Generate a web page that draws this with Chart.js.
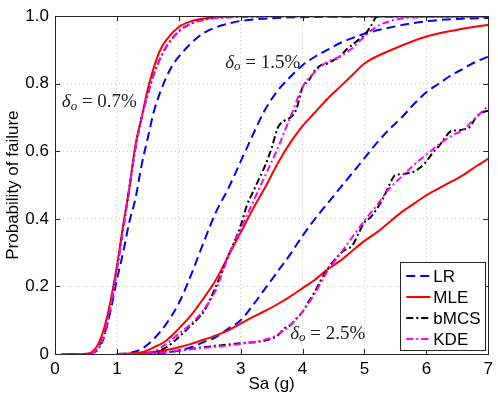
<!DOCTYPE html>
<html>
<head>
<meta charset="utf-8">
<script src="https://cdn.jsdelivr.net/npm/chart.js@4.4.0/dist/chart.umd.min.js"></script>
<style>
  html, body { margin: 0; padding: 0; background: #fff; }
</style>
</head>
<body>
<canvas id="chart" width="498" height="396"></canvas>
<script>
// x ticks / y ticks
const xTicks = [0, 1, 2, 3, 4, 5, 6, 7];
const yTicks = [0, 0.2, 0.4, 0.6, 0.8, 1];

// delta_o = 0.7%
const lr07X = [0.1, 0.5, 0.6, 0.7, 0.8, 0.9, 1.0, 1.1, 1.2, 1.3, 1.4, 1.5, 1.6, 1.7, 1.8, 1.9, 2.0, 2.2, 2.4, 2.6, 2.8, 3.0, 3.5, 4.0, 5.0, 7.0];
const lr07Y = [0, 0, 0.004, 0.02, 0.06, 0.13, 0.22, 0.30, 0.39, 0.46, 0.56, 0.64, 0.72, 0.775, 0.82, 0.855, 0.88, 0.92, 0.95, 0.967, 0.978, 0.986, 0.994, 0.997, 0.999, 1];
const mle07X = [0.1, 0.5, 0.6, 0.7, 0.8, 0.9, 1.0, 1.1, 1.2, 1.3, 1.4, 1.5, 1.6, 1.7, 1.8, 2.0, 2.2, 2.4, 2.7, 3.0, 7.0];
const mle07Y = [0, 0.001, 0.006, 0.03, 0.08, 0.16, 0.26, 0.38, 0.49, 0.62, 0.70, 0.785, 0.85, 0.90, 0.93, 0.968, 0.985, 0.993, 0.998, 1, 1];
const bmcs07X = [0.1, 0.5, 0.6, 0.7, 0.8, 0.9, 1.0, 1.1, 1.2, 1.3, 1.4, 1.5, 1.6, 1.7, 1.8, 2.0, 2.2, 2.5, 3.0, 3.5, 7.0];
const bmcs07Y = [0, 0, 0.003, 0.015, 0.055, 0.14, 0.25, 0.37, 0.49, 0.61, 0.70, 0.77, 0.83, 0.875, 0.91, 0.955, 0.978, 0.993, 0.998, 1, 1];
const kde07X = [0.1, 0.5, 0.6, 0.7, 0.8, 0.9, 1.0, 1.1, 1.2, 1.3, 1.4, 1.5, 1.6, 1.7, 1.8, 2.0, 2.2, 2.5, 3.0, 3.5, 7.0];
const kde07Y = [0, 0, 0.004, 0.017, 0.06, 0.145, 0.25, 0.37, 0.49, 0.61, 0.70, 0.77, 0.83, 0.875, 0.91, 0.955, 0.978, 0.992, 0.998, 1, 1];

// delta_o = 1.5%
const lr15X = [1.0, 1.2, 1.4, 1.6, 1.8, 2.0, 2.2, 2.4, 2.6, 2.8, 3.0, 3.2, 3.4, 3.6, 3.8, 4.0, 4.2, 4.4, 4.6, 4.8, 5.0, 5.5, 6.0, 6.5, 7.0];
const lr15Y = [0, 0.003, 0.015, 0.045, 0.09, 0.15, 0.235, 0.33, 0.42, 0.49, 0.57, 0.65, 0.725, 0.78, 0.82, 0.855, 0.88, 0.90, 0.92, 0.935, 0.948, 0.97, 0.985, 0.992, 0.995];
const mle15X = [1.0, 1.2, 1.4, 1.6, 1.8, 2.0, 2.2, 2.4, 2.6, 2.8, 3.0, 3.2, 3.4, 3.6, 3.8, 4.0, 4.2, 4.4, 4.6, 4.8, 5.0, 5.5, 6.0, 6.5, 7.0];
const mle15Y = [0, 0.001, 0.005, 0.02, 0.04, 0.075, 0.115, 0.165, 0.22, 0.29, 0.36, 0.43, 0.495, 0.565, 0.625, 0.675, 0.715, 0.755, 0.79, 0.825, 0.86, 0.905, 0.94, 0.96, 0.975];
const bmcs15X = [1.0, 1.4, 1.6, 1.8, 2.0, 2.2, 2.4, 2.6, 2.8, 3.0, 3.1, 3.2, 3.3, 3.4, 3.5, 3.6, 3.7, 3.8, 3.9, 4.0, 4.1, 4.2, 4.3, 4.4, 4.5, 4.6, 4.7, 4.8, 4.9, 5.0, 5.1, 5.2, 5.3, 7.0];
const bmcs15Y = [0, 0, 0.005, 0.02, 0.05, 0.085, 0.125, 0.2, 0.29, 0.38, 0.44, 0.48, 0.52, 0.56, 0.61, 0.67, 0.69, 0.70, 0.725, 0.79, 0.81, 0.84, 0.855, 0.86, 0.87, 0.88, 0.90, 0.915, 0.93, 0.944, 0.97, 0.998, 1, 1];
const kde15X = [1.0, 1.4, 1.6, 1.8, 2.0, 2.2, 2.4, 2.6, 2.8, 3.0, 3.2, 3.4, 3.6, 3.8, 4.0, 4.2, 4.4, 4.6, 4.8, 5.0, 5.2, 5.4, 5.6, 6.0, 7.0];
const kde15Y = [0, 0, 0.008, 0.03, 0.06, 0.09, 0.13, 0.19, 0.29, 0.37, 0.45, 0.53, 0.61, 0.70, 0.79, 0.835, 0.865, 0.88, 0.905, 0.94, 0.97, 0.985, 0.993, 0.998, 1];

// delta_o = 2.5%
const lr25X = [1.2, 1.4, 1.8, 2.0, 2.2, 2.4, 2.6, 2.8, 3.0, 3.2, 3.4, 3.6, 3.8, 4.0, 4.2, 4.4, 4.6, 4.8, 5.0, 5.2, 5.4, 5.6, 5.8, 6.0, 6.2, 6.4, 6.6, 6.8, 7.0];
const lr25Y = [0, 0, 0.005, 0.01, 0.02, 0.035, 0.05, 0.075, 0.1, 0.145, 0.195, 0.245, 0.295, 0.35, 0.40, 0.445, 0.49, 0.535, 0.58, 0.625, 0.665, 0.70, 0.74, 0.775, 0.80, 0.825, 0.845, 0.865, 0.88];
const mle25X = [1.0, 1.4, 1.8, 2.0, 2.2, 2.4, 2.6, 2.8, 3.0, 3.2, 3.4, 3.6, 3.8, 4.0, 4.2, 4.4, 4.6, 4.8, 5.0, 5.2, 5.4, 5.6, 5.8, 6.0, 6.2, 6.4, 6.6, 6.8, 7.0];
const mle25Y = [0, 0.003, 0.012, 0.02, 0.03, 0.042, 0.055, 0.07, 0.09, 0.11, 0.128, 0.148, 0.17, 0.195, 0.22, 0.25, 0.275, 0.305, 0.335, 0.36, 0.39, 0.42, 0.445, 0.47, 0.49, 0.51, 0.53, 0.555, 0.578];
const bmcs25X = [1.2, 1.4, 1.8, 2.0, 2.4, 2.8, 3.0, 3.2, 3.4, 3.6, 3.7, 3.8, 3.9, 4.0, 4.1, 4.2, 4.3, 4.4, 4.5, 4.6, 4.7, 4.8, 4.9, 5.0, 5.1, 5.2, 5.3, 5.4, 5.5, 5.6, 5.7, 5.8, 5.9, 6.0, 6.1, 6.2, 6.3, 6.4, 6.5, 6.6, 6.7, 6.8, 6.9, 7.0];
const bmcs25Y = [0, 0, 0.005, 0.01, 0.02, 0.028, 0.032, 0.035, 0.04, 0.055, 0.075, 0.085, 0.105, 0.125, 0.155, 0.185, 0.22, 0.25, 0.275, 0.295, 0.31, 0.32, 0.355, 0.39, 0.405, 0.43, 0.46, 0.50, 0.53, 0.532, 0.535, 0.54, 0.552, 0.57, 0.595, 0.615, 0.64, 0.66, 0.662, 0.665, 0.672, 0.70, 0.715, 0.72];
const kde25X = [1.2, 1.4, 1.8, 2.0, 2.4, 2.8, 3.0, 3.2, 3.4, 3.6, 3.8, 4.0, 4.2, 4.4, 4.6, 4.8, 5.0, 5.2, 5.4, 5.6, 5.8, 6.0, 6.2, 6.4, 6.6, 6.8, 7.0];
const kde25Y = [0, 0, 0.005, 0.01, 0.018, 0.025, 0.03, 0.035, 0.043, 0.058, 0.085, 0.125, 0.18, 0.245, 0.295, 0.345, 0.395, 0.44, 0.49, 0.525, 0.56, 0.59, 0.62, 0.645, 0.665, 0.70, 0.735];

// annotation labels
const caseLabels = ['0.7%', '1.5%', '2.5%'];
const caseLabelAt = [[0.11, 0.745], [2.75, 0.862], [3.8, 0.06]];

const methods = {
    LR:   { color: '#0000ff', dash: [9, 5],       order: 3 },
    MLE:  { color: '#ff0000', dash: [],           order: 2 },
    bMCS: { color: '#000000', dash: [7, 3, 2, 3], order: 1 },
    KDE:  { color: '#ff00ff', dash: [7, 3, 2, 3], order: 0 }
};

function pts(xs, ys) {
    return xs.map((x, i) => ({ x: x, y: ys[i] }));
}

function series(name, xs, ys) {
    const m = methods[name];
    return {
        label: name,
        data: pts(xs, ys),
        borderColor: m.color,
        backgroundColor: m.color,
        borderDash: m.dash,
        borderWidth: 2,
        pointRadius: 0,
        cubicInterpolationMode: 'monotone',
        fill: false,
        order: m.order
    };
}

const datasets = [
    series('LR', lr07X, lr07Y), series('MLE', mle07X, mle07Y), series('bMCS', bmcs07X, bmcs07Y), series('KDE', kde07X, kde07Y),
    series('LR', lr15X, lr15Y), series('MLE', mle15X, mle15Y), series('bMCS', bmcs15X, bmcs15Y), series('KDE', kde15X, kde15Y),
    series('LR', lr25X, lr25Y), series('MLE', mle25X, mle25Y), series('bMCS', bmcs25X, bmcs25Y), series('KDE', kde25X, kde25Y)
];

const FONT = 'Liberation Sans';

// box + inward ticks like matlab
const axesBox = {
    id: 'axesBox',
    afterDatasetsDraw(chart) {
        const { ctx, chartArea: a, scales } = chart;
        ctx.save();
        ctx.strokeStyle = '#262626';
        ctx.lineWidth = 1;
        ctx.setLineDash([]);
        ctx.beginPath();
        xTicks.forEach(v => {
            const px = Math.round(scales.x.getPixelForValue(v)) + 0.5;
            ctx.moveTo(px, a.bottom); ctx.lineTo(px, a.bottom - 5);
            ctx.moveTo(px, a.top); ctx.lineTo(px, a.top + 5);
        });
        yTicks.forEach(v => {
            const py = Math.round(scales.y.getPixelForValue(v)) + 0.5;
            ctx.moveTo(a.left, py); ctx.lineTo(a.left + 5, py);
            ctx.moveTo(a.right, py); ctx.lineTo(a.right - 5, py);
        });
        ctx.stroke();
        ctx.strokeRect(Math.round(a.left) + 0.5, Math.round(a.top) + 0.5,
            Math.round(a.right - a.left), Math.round(a.bottom - a.top));
        ctx.restore();
    }
};

// delta_o labels
const caseText = {
    id: 'caseText',
    afterDatasetsDraw(chart) {
        const { ctx, scales } = chart;
        ctx.save();
        ctx.fillStyle = '#222';
        ctx.textBaseline = 'middle';
        caseLabels.forEach((txt, i) => {
            let x = scales.x.getPixelForValue(caseLabelAt[i][0]);
            const y = scales.y.getPixelForValue(caseLabelAt[i][1]);
            ctx.font = 'italic 19px "Liberation Serif"';
            ctx.fillText('\u03b4', x, y);
            x += ctx.measureText('\u03b4').width;
            ctx.font = 'italic 13px "Liberation Serif"';
            ctx.fillText('o', x, y + 4);
            x += ctx.measureText('o').width;
            ctx.font = '19px "Liberation Serif"';
            ctx.fillText(' = ' + txt, x, y);
        });
        ctx.restore();
    }
};

// legend in lower right corner of the axes
const legendBox = {
    id: 'legendBox',
    afterDraw(chart) {
        const { ctx, chartArea: a } = chart;
        const seen = [];
        chart.data.datasets.forEach(d => { if (!seen.find(s => s.label === d.label)) seen.push(d); });
        const w = 85, h = 88;
        const x0 = a.right - 3 - w, y0 = a.bottom - 4 - h;
        ctx.save();
        ctx.fillStyle = '#fff';
        ctx.fillRect(x0, y0, w, h);
        ctx.strokeStyle = '#262626';
        ctx.lineWidth = 1;
        ctx.strokeRect(Math.round(x0) + 0.5, Math.round(y0) + 0.5, w, h);
        ctx.font = '17px "' + FONT + '"';
        ctx.textBaseline = 'middle';
        seen.forEach((d, i) => {
            const y = y0 + 14 + i * 21;
            ctx.strokeStyle = d.borderColor;
            ctx.lineWidth = 2;
            ctx.setLineDash(d.borderDash);
            ctx.beginPath();
            ctx.moveTo(x0 + 6, y); ctx.lineTo(x0 + 30, y);
            ctx.stroke();
            ctx.setLineDash([]);
            ctx.fillStyle = '#000';
            ctx.fillText(d.label, x0 + 33, y + 1);
        });
        ctx.restore();
    }
};

new Chart(document.getElementById('chart'), {
    type: 'line',
    data: { datasets: datasets },
    options: {
        responsive: false,
        animation: false,
        layout: { padding: { top: 13, right: 9, left: 0, bottom: 0 } },
        plugins: { legend: { display: false }, tooltip: { enabled: false } },
        scales: {
            x: {
                type: 'linear', min: 0, max: 7,
                ticks: { stepSize: 1, padding: 5, color: '#000', maxRotation: 0, font: { family: FONT, size: 17 } },
                grid: { color: '#c4c4c4', drawTicks: false },
                border: { display: false, dash: [1, 3] },
                title: { display: true, text: 'Sa (g)', color: '#000', font: { family: FONT, size: 17 }, padding: { top: 0, bottom: 1 } },
                afterFit(s) { s.height = 42; }
            },
            y: {
                min: 0, max: 1,
                ticks: { stepSize: 0.2, padding: 6, color: '#000', font: { family: FONT, size: 17 } },
                grid: { color: '#c4c4c4', drawTicks: false },
                border: { display: false, dash: [1, 3] },
                title: { display: true, text: 'Probability of failure', color: '#000', font: { family: FONT, size: 17 }, padding: { top: 3, bottom: 0 } },
                afterFit(s) { s.width = 55; }
            }
        }
    },
    plugins: [axesBox, caseText, legendBox]
});
</script>
</body>
</html>
